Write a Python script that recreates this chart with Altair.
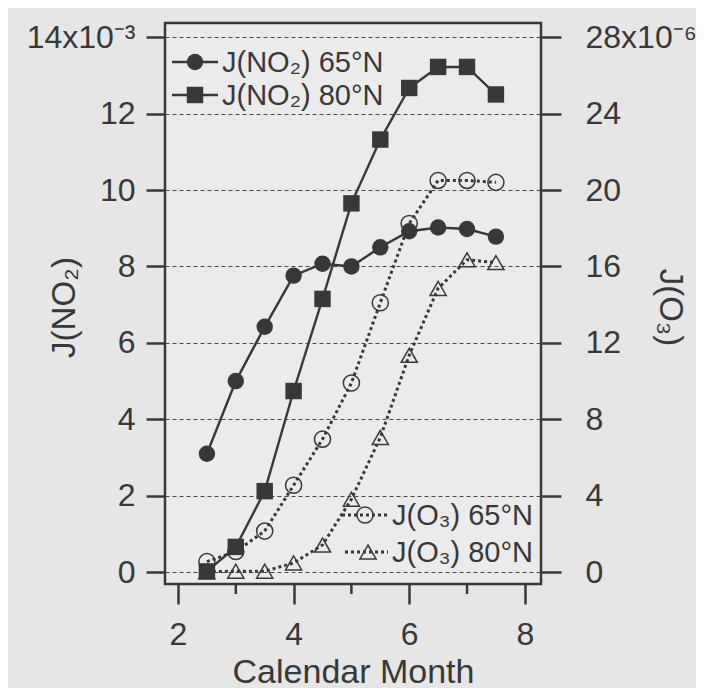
import altair as alt
import pandas as pd

# ---- data ----
months = [2.5, 3.0, 3.5, 4.0, 4.5, 5.0, 5.5, 6.0, 6.5, 7.0, 7.5]
jno2_65n = [3.10, 5.00, 6.42, 7.76, 8.07, 8.00, 8.50, 8.92, 9.02, 8.98, 8.78]   # x10^-3
jno2_80n = [0.02, 0.66, 2.12, 4.74, 7.15, 9.65, 11.32, 12.67, 13.22, 13.22, 12.50]
jo3_65n = [0.55, 1.08, 2.15, 4.55, 6.96, 9.90, 14.10, 18.25, 20.50, 20.50, 20.40]  # x10^-6
jo3_80n = [0.02, 0.05, 0.05, 0.48, 1.42, 3.82, 7.05, 11.35, 14.85, 16.35, 16.20]

x_major = [2, 4, 6, 8]
x_minor = [3, 5, 7]
no2_ticks = [0, 2, 4, 6, 8, 10, 12, 14]
o3_ticks = [0, 4, 8, 12, 16, 20, 24, 28]

series_no2 = ["J(NO\u2082) 65°N", "J(NO\u2082) 80°N"]
series_o3 = ["J(O\u2083) 65°N", "J(O\u2083) 80°N"]

# ---- styling ----
W, H = 376, 561
INK = "#383838"
FONT = "Liberation Sans"
BG = "#e6e6e6"

no2_df = pd.DataFrame({
    "month": months * 2,
    "value": jno2_65n + jno2_80n,
    "series": [series_no2[0]] * len(months) + [series_no2[1]] * len(months),
})
o3_df = pd.DataFrame({
    "month": months * 2,
    "value": jo3_65n + jo3_80n,
    "series": [series_o3[0]] * len(months) + [series_o3[1]] * len(months),
})

xscale = alt.Scale(domain=[1.775, 8.28], nice=False, zero=False)
xaxis = alt.Axis(
    values=x_major, format="d", tickSize=20, tickWidth=2.5, tickColor=INK,
    labelFontSize=32, labelPadding=15, labelColor=INK, labelFont=FONT,
    domain=False, grid=False,
    title="Calendar Month", titleFontSize=34, titleFont=FONT, titleColor=INK,
    titleFontWeight="normal", titleX=W / 2, titleY=98, titleBaseline="alphabetic",
    titleAlign="center",
)
X = alt.X("month:Q", scale=xscale, axis=xaxis)

no2_scale = alt.Scale(domain=[-0.31, 14.37], nice=False, zero=False)
o3_scale = alt.Scale(domain=[-0.62, 28.74], nice=False, zero=False)

no2_axis = alt.Axis(
    orient="left", values=no2_ticks, format="d",
    labelExpr="datum.value == 14 ? '14x10\u207b\u00b3' : datum.label",
    tickSize=19, tickWidth=2.5, tickColor=INK,
    labelFontSize=32, labelPadding=11, labelColor=INK, labelFont=FONT,
    domain=False, grid=True, gridDash=[4, 3], gridColor="#4a4a4a", gridWidth=1,
    title="J(NO\u2082)", titleFontSize=33, titleFont=FONT, titleColor=INK,
    titleFontWeight="normal", titleAngle=270, titleX=-101, titleY=284,
    titleAlign="center", titleBaseline="middle",
)
o3_axis = alt.Axis(
    orient="right", values=o3_ticks, format="d",
    labelExpr="datum.value == 28 ? '28x10\u207b\u2076' : datum.label",
    tickSize=20, tickWidth=2.5, tickColor=INK,
    labelFontSize=32, labelPadding=24, labelColor=INK, labelFont=FONT,
    domain=False, grid=False,
    title="J(O\u2083)", titleFontSize=33, titleFont=FONT, titleColor=INK,
    titleFontWeight="normal", titleAngle=90, titleX=128, titleY=284,
    titleAlign="center", titleBaseline="middle",
)

Y_no2 = alt.Y("value:Q", scale=no2_scale, axis=no2_axis)
Y_o3 = alt.Y("value:Q", scale=o3_scale, axis=o3_axis)

# O3 series: dotted lines, open markers
o3_line = alt.Chart(o3_df).mark_line(
    color=INK, strokeWidth=3, strokeDash=[3, 3]
).encode(x=X, y=Y_o3, detail="series:N")
o3_pts = alt.Chart(o3_df).mark_point(
    filled=False, color=INK, strokeWidth=1.5, opacity=1, size=260
).encode(
    x=X, y=Y_o3,
    shape=alt.Shape("series:N", scale=alt.Scale(domain=series_o3, range=["circle", "triangle-up"]), legend=None),
)
o3_chart = alt.layer(o3_line, o3_pts)

# NO2 series: solid lines, filled markers
no2_line = alt.Chart(no2_df).mark_line(
    color=INK, strokeWidth=2.4
).encode(x=X, y=Y_no2, detail="series:N")
no2_pts = alt.Chart(no2_df).mark_point(
    filled=True, color=INK, opacity=1, size=270
).encode(
    x=X, y=Y_no2,
    shape=alt.Shape("series:N", scale=alt.Scale(domain=series_no2, range=["circle", "square"]), legend=None),
)
no2_chart = alt.layer(no2_line, no2_pts)

# minor x ticks at odd months
minor_df = pd.DataFrame({"month": x_minor})
minor = alt.Chart(minor_df).mark_rule(color=INK, strokeWidth=2.5).encode(
    x=X, y=alt.value(H), y2=alt.value(H + 10)
)


def legend_entry(label, y, x0, x1, xs, shape, filled, dash):
    d = pd.DataFrame({"label": [label]})
    line_kw = dict(color=INK, strokeWidth=3 if dash else 2.4)
    if dash:
        line_kw["strokeDash"] = [3, 3]
    ln = alt.Chart(d).mark_rule(**line_kw).encode(
        x=alt.value(x0), x2=alt.value(x1), y=alt.value(y)
    )
    pt = alt.Chart(d).mark_point(
        shape=shape, filled=filled, color=INK, opacity=1,
        size=270 if filled else 260, strokeWidth=0 if filled else 1.5,
    ).encode(x=alt.value(xs), y=alt.value(y))
    tx = alt.Chart(d).mark_text(
        align="left", baseline="alphabetic", font=FONT, fontSize=29, color=INK
    ).encode(x=alt.value(x1 + 4), y=alt.value(y + 10), text="label:N")
    return [ln, pt, tx]


legend_layers = (
    legend_entry(series_no2[0], 39, 7, 53, 30, "circle", True, False)
    + legend_entry(series_no2[1], 72, 7, 53, 30, "square", True, False)
    + legend_entry(series_o3[0], 492, 177, 223, 200, "circle", False, True)
    + legend_entry(series_o3[1], 529, 180, 223, 203, "triangle-up", False, True)
)

chart = (
    alt.layer(o3_chart, no2_chart, minor, *legend_layers)
    .resolve_scale(y="independent", shape="independent")
    .properties(
        width=W, height=H, background=BG,
        autosize=alt.AutoSizeParams(type="none"),
        padding={"left": 157, "top": 15, "right": 155, "bottom": 104},
    )
    .configure_view(stroke=INK, strokeWidth=2.5, fill="#ebebeb")
)

chart.save("out.html", embed_options={"renderer": "svg", "actions": False})
